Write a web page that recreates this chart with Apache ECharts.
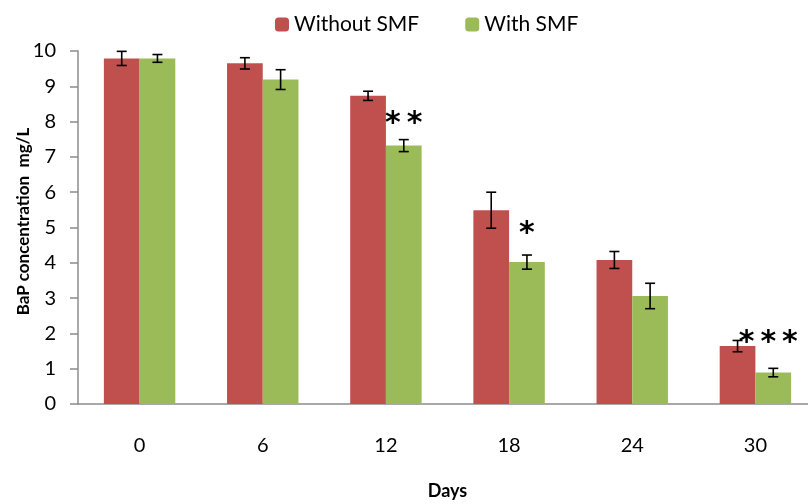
<!DOCTYPE html>
<html>
<head>
<meta charset="utf-8">
<script src="https://cdn.jsdelivr.net/npm/echarts@6/dist/echarts.min.js"></script>
<style>
  html, body { margin: 0; padding: 0; background: #fff; }
  #chart { width: 808px; height: 504px; }
</style>
</head>
<body>
<div id="chart"></div>
<script>
// 数据
var days = ['0', '6', '12', '18', '24', '30'];
var withoutSMF = [9.79, 9.65, 8.73, 5.49, 4.08, 1.64];
var withoutSMFErr = [0.20, 0.16, 0.13, 0.51, 0.24, 0.16];
var withSMF = [9.79, 9.19, 7.32, 4.02, 3.06, 0.89];
var withSMFErr = [0.11, 0.28, 0.17, 0.20, 0.36, 0.12];
var marks = ['', '', '**', '*', '', '***'];

var RED = '#c0504d';
var GREEN = '#9bbb59';
var FONT = 'Lato';
// 星号离柱顶的距离 / 水平偏移
var markDist = [0, 0, 6, 13, 0, 14];
var markShift = [0, 0, 0, 0, 0, -5];

// 误差线, side: -1 左边柱子, 1 右边柱子
function errorSeries(vals, errs, side) {
  return {
    type: 'custom',
    z: 5,
    silent: true,
    data: vals.map(function (v, i) { return [i, v, errs[i]]; }),
    encode: { x: 0, y: 1 },
    renderItem: function (params, api) {
      var band = api.size([1, 0])[0];
      var c = api.coord([api.value(0), api.value(1)]);
      var x = c[0] + side * band * 0.145;
      var hi = api.coord([api.value(0), api.value(1) + api.value(2)])[1];
      var lo = api.coord([api.value(0), api.value(1) - api.value(2)])[1];
      var cap = 5;
      var style = { stroke: '#000', lineWidth: 1.6 };
      return {
        type: 'group',
        children: [
          { type: 'line', shape: { x1: x, y1: hi, x2: x, y2: lo }, style: style },
          { type: 'line', shape: { x1: x - cap, y1: hi, x2: x + cap, y2: hi }, style: style },
          { type: 'line', shape: { x1: x - cap, y1: lo, x2: x + cap, y2: lo }, style: style }
        ]
      };
    }
  };
}

var chart = echarts.init(document.getElementById('chart'));
chart.setOption({
  animation: false,
  textStyle: { fontFamily: FONT },
  legend: {
    data: ['Without SMF', 'With SMF'],
    top: 9,
    left: 270,
    itemWidth: 14,
    itemHeight: 14,
    itemGap: 46,
    textStyle: { fontSize: 21, color: '#000', fontFamily: FONT }
  },
  grid: { left: 78, right: -9, top: 51, bottom: 100, containLabel: false, outerBoundsMode: 'none' },
  xAxis: {
    type: 'category',
    data: days,
    name: 'Days',
    nameLocation: 'middle',
    nameGap: 78,
    nameTextStyle: { fontSize: 18, fontWeight: 'bold', color: '#000' },
    axisLine: { lineStyle: { color: '#8c8c8c', width: 1.5 } },
    axisTick: { length: 6, lineStyle: { color: '#8c8c8c', width: 1.5 } },
    axisLabel: { fontSize: 20, color: '#000', margin: 32 }
  },
  yAxis: {
    type: 'value',
    min: 0,
    max: 10,
    interval: 1,
    name: 'BaP concentration  mg/L',
    nameLocation: 'middle',
    nameGap: 46,
    nameMoveOverlap: false,
    nameTextStyle: { fontSize: 17, fontWeight: 'bold', color: '#000', padding: [0, 0, 0, 12] },
    axisLine: { show: true, lineStyle: { color: '#8c8c8c', width: 1.5 } },
    axisTick: { show: true, length: 8, lineStyle: { color: '#8c8c8c', width: 1.5 } },
    axisLabel: { fontSize: 20, color: '#000', margin: 22 },
    splitLine: { show: false }
  },
  series: [
    {
      name: 'Without SMF',
      type: 'bar',
      data: withoutSMF,
      barGap: '0%',
      barCategoryGap: '42%',
      itemStyle: { color: RED }
    },
    {
      name: 'With SMF',
      type: 'bar',
      data: withSMF.map(function (v, i) {
        return {
          value: v,
          label: {
            show: marks[i] !== '',
            position: 'top',
            distance: markDist[i],
            offset: [markShift[i], 0],
            formatter: marks[i].split('').join('\u2009'),
            fontSize: 30,
            fontWeight: 'bold',
            fontFamily: 'DejaVu Sans',
            color: '#000'
          }
        };
      }),
      barGap: '0%',
      barCategoryGap: '42%',
      itemStyle: { color: GREEN }
    },
    errorSeries(withoutSMF, withoutSMFErr, -1),
    errorSeries(withSMF, withSMFErr, 1)
  ]
});
</script>
</body>
</html>
